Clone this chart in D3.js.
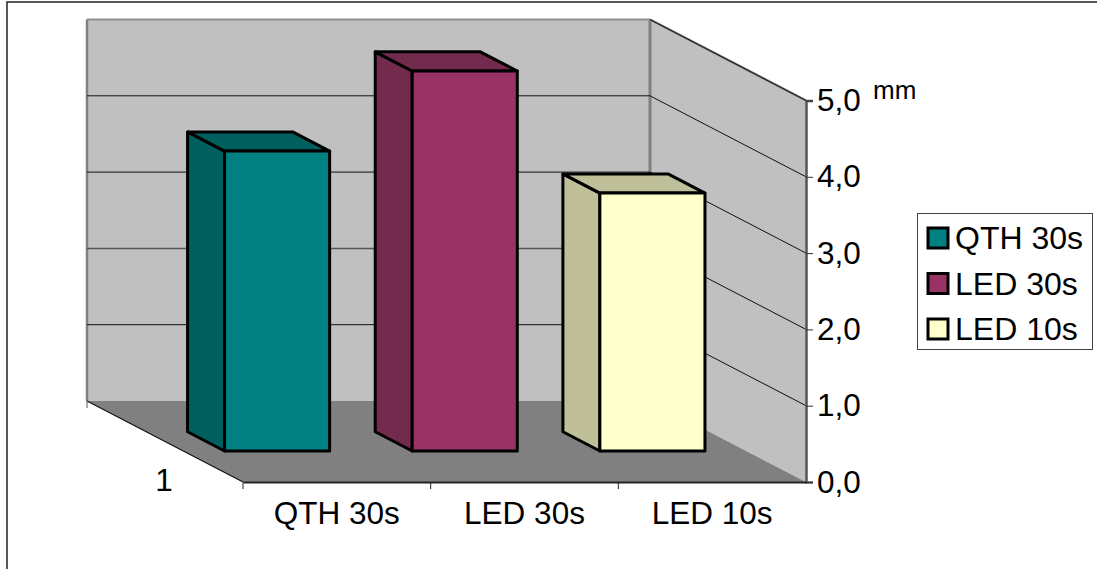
<!DOCTYPE html>
<html lang="en">
<head>
<meta charset="UTF-8">
<title>Chart</title>
<script src="https://d3js.org/d3.v7.min.js"></script>
<style>
  body { margin: 0; background: #fff; }
  text { font-family: "Liberation Sans", Arial, sans-serif; fill: #000; }
</style>
</head>
<body>
<div id="chart"></div>
<script>
const categories = ["QTH 30s", "LED 30s", "LED 10s"];
const values = [3.93, 4.98, 3.38];
const faceColors = ["#008080", "#993366", "#ffffcc"];
const sideColors = ["#006060", "#722a4d", "#bfbf99"];
const yTicks = [0, 1, 2, 3, 4, 5];
const depthLabel = "1";
const unitLabel = "mm";

const w = 1097, h = 569;
const fontSize = 31.5;

const svg = d3.select("#chart").append("svg")
  .attr("width", w).attr("height", h)
  .style("display", "block");

const xScale = d3.scaleBand().domain(categories).range([243, 806]).paddingInner(0.44).paddingOuter(0.22);
const edgeScale = d3.scaleLinear().domain([0, 3]).range([243, 806]);
const yScale = d3.scaleLinear().domain([0, 5]).range([482, 100.5]);
// depth 0 = front of the floor, 1 = back wall
const dxScale = d3.scaleLinear().domain([0, 1]).range([0, -156]);
const dyScale = d3.scaleLinear().domain([0, 1]).range([0, -81]);
const pt = (x, v, d) => [x + dxScale(d), yScale(v) + dyScale(d)];
const poly = pts => "M" + pts.map(p => p.join(",")).join("L") + "Z";

// chart area border
svg.append("rect").attr("x", 7).attr("y", 2).attr("width", w + 10).attr("height", h + 10)
  .attr("fill", "#fff").attr("stroke", "#222").attr("stroke-width", 1.5);

const xL = edgeScale(0), xR = edgeScale(3);

// back wall, side wall, floor
svg.append("path").attr("d", poly([pt(xL, 0, 1), pt(xR, 0, 1), pt(xR, 5, 1), pt(xL, 5, 1)]))
  .attr("fill", "#c0c0c0");
svg.append("path").attr("d", poly([pt(xR, 0, 1), pt(xR, 0, 0), pt(xR, 5, 0), pt(xR, 5, 1)]))
  .attr("fill", "#c0c0c0");
svg.append("path").attr("d", poly([pt(xL, 0, 0), pt(xR, 0, 0), pt(xR, 0, 1), pt(xL, 0, 1)]))
  .attr("fill", "#808080");

// wall edges
const edge = (a, b, color, width) => svg.append("line")
  .attr("x1", a[0]).attr("y1", a[1]).attr("x2", b[0]).attr("y2", b[1])
  .attr("stroke", color).attr("stroke-width", width);
edge(pt(xL, 0, 1), pt(xL, 5, 1), "#808080", 2.5);
edge(pt(xL, 5, 1), pt(xR, 5, 1), "#909090", 2);
edge(pt(xR, 5, 1), pt(xR, 0.02, 1), "#808080", 3);
edge(pt(xR, 5, 1), pt(xR, 5, 0), "#808080", 2.5);

// gridlines
yTicks.filter(v => v > 0 && v < 5).forEach(v => {
  edge(pt(xL, v, 1), pt(xR, v, 1), v === 2 ? "#555" : "#111", v === 2 ? 1.5 : 1);
});
yTicks.filter(v => v > 0).forEach(v => {
  edge(pt(xR, v, 1), pt(xR, v, 0), "#111", 1);
});

// axis lines
edge(pt(xL, 0, 1), pt(xL, 0, 0), "#111", 1.2);

const yAxis = d3.axisRight(yScale).tickValues(yTicks)
  .tickFormat(v => d3.format(".1f")(v).replace(".", ","))
  .tickSize(7).tickPadding(4);
const yg = svg.append("g").attr("transform", `translate(${xR},0)`).call(yAxis);
yg.select(".domain").attr("stroke", "#555").attr("stroke-width", 2.5);
yg.selectAll("line").attr("stroke", "#333");
yg.selectAll("text").style("font-size", fontSize + "px").attr("fill", "#000");

const xAxis = d3.axisBottom(xScale).tickSize(0).tickPadding(20);
const xg = svg.append("g").attr("transform", `translate(0,${yScale(0)})`).call(xAxis);
xg.select(".domain").attr("stroke", "#222").attr("stroke-width", 2);
xg.selectAll("text").style("font-size", fontSize + "px").attr("fill", "#000");

// ticks between the categories and at the back corner
d3.range(0, 3).forEach(i => edge(pt(edgeScale(i), 0, 0), [edgeScale(i), yScale(0) + 7], "#222", 1));
edge(pt(xL, 0, 1), [pt(xL, 0, 1)[0], pt(xL, 0, 1)[1] + 7], "#555", 1);

// bars
const dFront = 0.383, dBack = 0.62;
categories.forEach((c, i) => {
  const x0 = xScale(c), x1 = x0 + xScale.bandwidth(), v = values[i];
  const g = svg.append("g").attr("stroke", "#000").attr("stroke-width", 3).attr("stroke-linejoin", "round");
  g.append("path").attr("d", poly([pt(x0, 0, dFront), pt(x0, 0, dBack), pt(x0, v, dBack), pt(x0, v, dFront)]))
    .attr("fill", sideColors[i]);
  g.append("path").attr("d", poly([pt(x0, v, dFront), pt(x0, v, dBack), pt(x1, v, dBack), pt(x1, v, dFront)]))
    .attr("fill", sideColors[i]);
  g.append("path").attr("d", poly([pt(x0, 0, dFront), pt(x1, 0, dFront), pt(x1, v, dFront), pt(x0, v, dFront)]))
    .attr("fill", faceColors[i]);
});

// labels outside the axes
svg.append("text").attr("x", 164).attr("y", 491).attr("text-anchor", "middle")
  .style("font-size", fontSize + "px").text(depthLabel);
svg.append("text").attr("x", 873).attr("y", 99)
  .style("font-size", "26px").text(unitLabel);

// legend
svg.append("rect").attr("x", 917.5).attr("y", 213.5).attr("width", 175).attr("height", 136)
  .attr("fill", "#fff").attr("stroke", "#444").attr("stroke-width", 1);
const legend = svg.selectAll("g.legend").data(categories).enter().append("g")
  .attr("class", "legend")
  .attr("transform", (d, i) => `translate(928,${228 + i * 45.5})`);
legend.append("rect").attr("width", 20).attr("height", 20)
  .attr("fill", (d, i) => faceColors[i]).attr("stroke", "#000").attr("stroke-width", 3);
legend.append("text").attr("x", 27).attr("y", 21)
  .style("font-size", "32px").text(d => d);
</script>
</body>
</html>
